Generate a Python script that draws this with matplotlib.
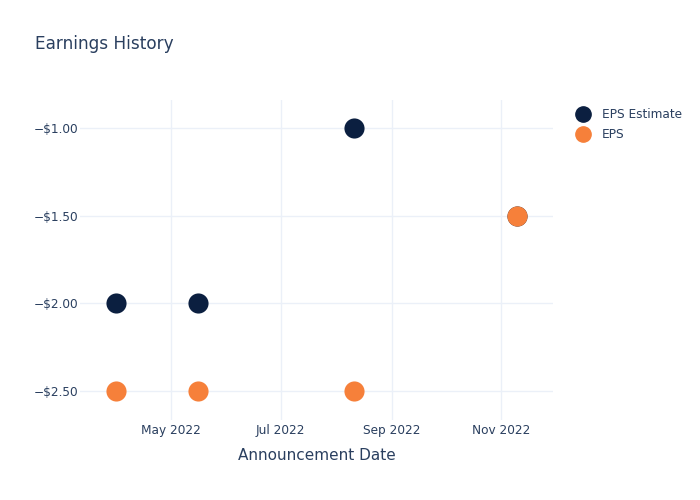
import numpy as np
import matplotlib.pyplot as plt
import matplotlib.dates as mdates
import matplotlib.ticker as mticker
from matplotlib.lines import Line2D

# data
dates = np.array(['2022-03-31', '2022-05-16', '2022-08-11', '2022-11-10'], dtype='datetime64[D]')
eps_estimate = [-2.00, -2.00, -1.00, -1.50]
eps_actual = [-2.50, -2.50, -2.50, -1.50]
series_names = ['EPS Estimate', 'EPS']


def main():
    text_color = '#2a3f5f'
    navy = '#0b1f40'
    orange = '#f6803a'

    fig = plt.figure(figsize=(7, 5), dpi=100)
    ax = fig.add_axes([80 / 700, 0.16, 473 / 700, 0.64])

    ax.scatter(dates, eps_estimate, s=210, color=navy, zorder=3, linewidths=0)
    ax.scatter(dates, eps_actual, s=210, color=orange, zorder=4, linewidths=0)

    ax.set_xlim(np.datetime64('2022-03-11'), np.datetime64('2022-11-30'))
    ax.set_ylim(-2.666, -0.84)

    ax.xaxis.set_major_locator(mdates.MonthLocator(bymonth=[1, 3, 5, 7, 9, 11]))
    ax.xaxis.set_major_formatter(mdates.DateFormatter('%b %Y'))
    ax.yaxis.set_major_locator(mticker.FixedLocator([-2.5, -2.0, -1.5, -1.0]))
    ax.yaxis.set_major_formatter(mticker.FuncFormatter(lambda v, p: '\u2212$%.2f' % abs(v)))

    ax.grid(True, color='#ebf0f8', linewidth=1)
    ax.set_axisbelow(True)
    for sp in ax.spines.values():
        sp.set_visible(False)
    ax.tick_params(length=0, labelsize=8.7, colors=text_color)
    ax.tick_params(axis='x', pad=3)
    ax.tick_params(axis='y', pad=1.5)

    ax.set_xlabel('Announcement Date', fontsize=11, color=text_color, labelpad=8)
    fig.text(35 / 700, 1 - 44 / 500, 'Earnings History', fontsize=12.2, color=text_color, va='center')

    handles = [
        Line2D([], [], marker='o', linestyle='none', markersize=11, color=navy),
        Line2D([], [], marker='o', linestyle='none', markersize=11, color=orange),
    ]
    fig.legend(handles, series_names, loc='upper left', bbox_to_anchor=(568 / 700, 1 - 103 / 500),
               frameon=False, fontsize=8.7, labelcolor=text_color, handletextpad=0.8,
               labelspacing=0.6, handlelength=1.6, borderaxespad=0)

    fig.savefig('out.png', dpi=100)


if __name__ == "__main__":
    main()
